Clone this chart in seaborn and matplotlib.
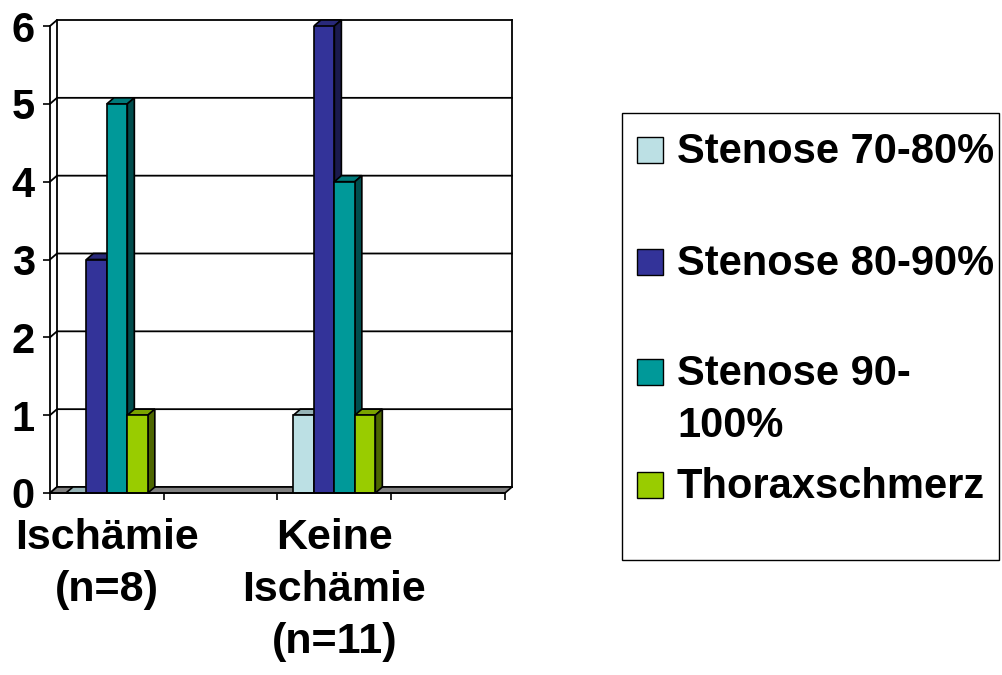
import matplotlib
matplotlib.use("Agg")
import matplotlib.pyplot as plt
from matplotlib.patches import Polygon, Rectangle
import pandas as pd
import seaborn as sns

# Category slots on the x axis (two of them stay empty)
categories = ["Ischämie\n(n=8)", " ", "Keine\nIschämie\n(n=11)", "  "]
series = ["Stenose 70-80%", "Stenose 80-90%", "Stenose 90-\n100%", "Thoraxschmerz"]
ischaemie = [0, 3, 5, 1]
keine_ischaemie = [1, 6, 4, 1]
colors = ["#BCE0E4", "#333399", "#009999", "#99CC00"]
y_ticks = [0, 1, 2, 3, 4, 5, 6]

plt.rcParams["font.family"] = ["Liberation Sans", "DejaVu Sans"]
plt.rcParams["font.weight"] = "bold"

W, H = 1003, 675
fig = plt.figure(figsize=(W / 100, H / 100), dpi=100)


def fx(px):
    return px / W


def fy(py):
    return 1 - py / H


ax = fig.add_axes([fx(50), fy(493), (505 - 50) / W, (493 - 26) / H])
ax.set_facecolor("none")

df = pd.DataFrame({
    "Gruppe": [categories[0]] * len(series) + [categories[2]] * len(series),
    "Befund": series * 2,
    "Anzahl": ischaemie + keine_ischaemie,
})

sns.barplot(data=df, x="Gruppe", y="Anzahl", hue="Befund", order=categories,
            hue_order=series, palette=colors, saturation=1, width=0.72,
            errorbar=None, edgecolor="black", linewidth=1.2, legend=False,
            ax=ax, zorder=3)
bars = list(ax.patches)

x_lo, x_hi = -0.5, len(categories) - 0.5
y_lo, y_hi = 0, 6
ax.set_xlim(x_lo, x_hi)
ax.set_ylim(y_lo, y_hi)

# depth of the pseudo-3D walls and bars, in data units
DX = 7 * (x_hi - x_lo) / 455
DY = 6 * (y_hi - y_lo) / 467

line_kw = dict(color="black", lw=1.3, clip_on=False)
for y in y_ticks:
    ax.plot([x_lo, x_lo + DX, x_hi + DX], [y, y + DY, y + DY], zorder=1, **line_kw)
ax.plot([x_lo + DX] * 2, [DY, y_hi + DY], zorder=1, **line_kw)
ax.plot([x_hi + DX] * 2, [DY, y_hi + DY], zorder=1, **line_kw)

# floor
ax.add_patch(Polygon([(x_lo, 0), (x_hi, 0), (x_hi + DX, DY), (x_lo + DX, DY)],
                     closed=True, fc="#808080", ec="black", lw=1.2,
                     zorder=1.5, clip_on=False))


def shade(c, f):
    return tuple(v * f for v in c[:3])


for p in bars:
    x0, w, h = p.get_x(), p.get_width(), p.get_height()
    fc = p.get_facecolor()
    ax.add_patch(Polygon([(x0, h), (x0 + w, h), (x0 + w + DX, h + DY), (x0 + DX, h + DY)],
                         closed=True, fc=shade(fc, 0.8), ec="black", lw=1.2,
                         zorder=2, clip_on=False))
    ax.add_patch(Polygon([(x0 + w, 0), (x0 + w + DX, DY), (x0 + w + DX, h + DY), (x0 + w, h)],
                         closed=True, fc=shade(fc, 0.5), ec="black", lw=1.2,
                         zorder=2, clip_on=False))

for side in ["top", "right"]:
    ax.spines[side].set_visible(False)
for side in ["left", "bottom"]:
    ax.spines[side].set_linewidth(1.3)
    ax.spines[side].set_zorder(4)

ax.set_xlabel("")
ax.set_ylabel("")
ax.set_yticks(y_ticks)
ax.set_yticklabels([str(v) for v in y_ticks])
ax.tick_params(axis="y", direction="out", length=5, width=1.2, pad=6,
               labelsize=30)
ax.set_xticks(range(len(categories)))
ax.set_xticklabels(categories)
ax.tick_params(axis="x", which="major", length=0, pad=18, labelsize=31)
ax.set_xticks([x_lo + i for i in range(len(categories) + 1)], minor=True)
ax.tick_params(axis="x", which="minor", direction="out", length=5, width=1.2)
for lbl in ax.get_xticklabels():
    lbl.set_fontweight("bold")
    lbl.set_linespacing(1.39)
for lbl in ax.get_yticklabels():
    lbl.set_fontweight("bold")

# legend box
fig.patches.append(Rectangle((fx(622), fy(560)), (999 - 622) / W, (560 - 113) / H,
                             transform=fig.transFigure, fill=False, ec="black", lw=1))
patch_y = [150, 262, 372, 485]
text_y = [152, 264, 400, 487]
for label, col, py, ty in zip(series, colors, patch_y, text_y):
    fig.patches.append(Rectangle((fx(637), fy(py + 13)), 26 / W, 26 / H,
                                 transform=fig.transFigure, fc=col, ec="black", lw=1))
    fig.text(fx(677), fy(ty), label, fontsize=30, fontweight="bold",
             va="center", ha="left", linespacing=1.38)

fig.savefig("out.png", dpi=100)
